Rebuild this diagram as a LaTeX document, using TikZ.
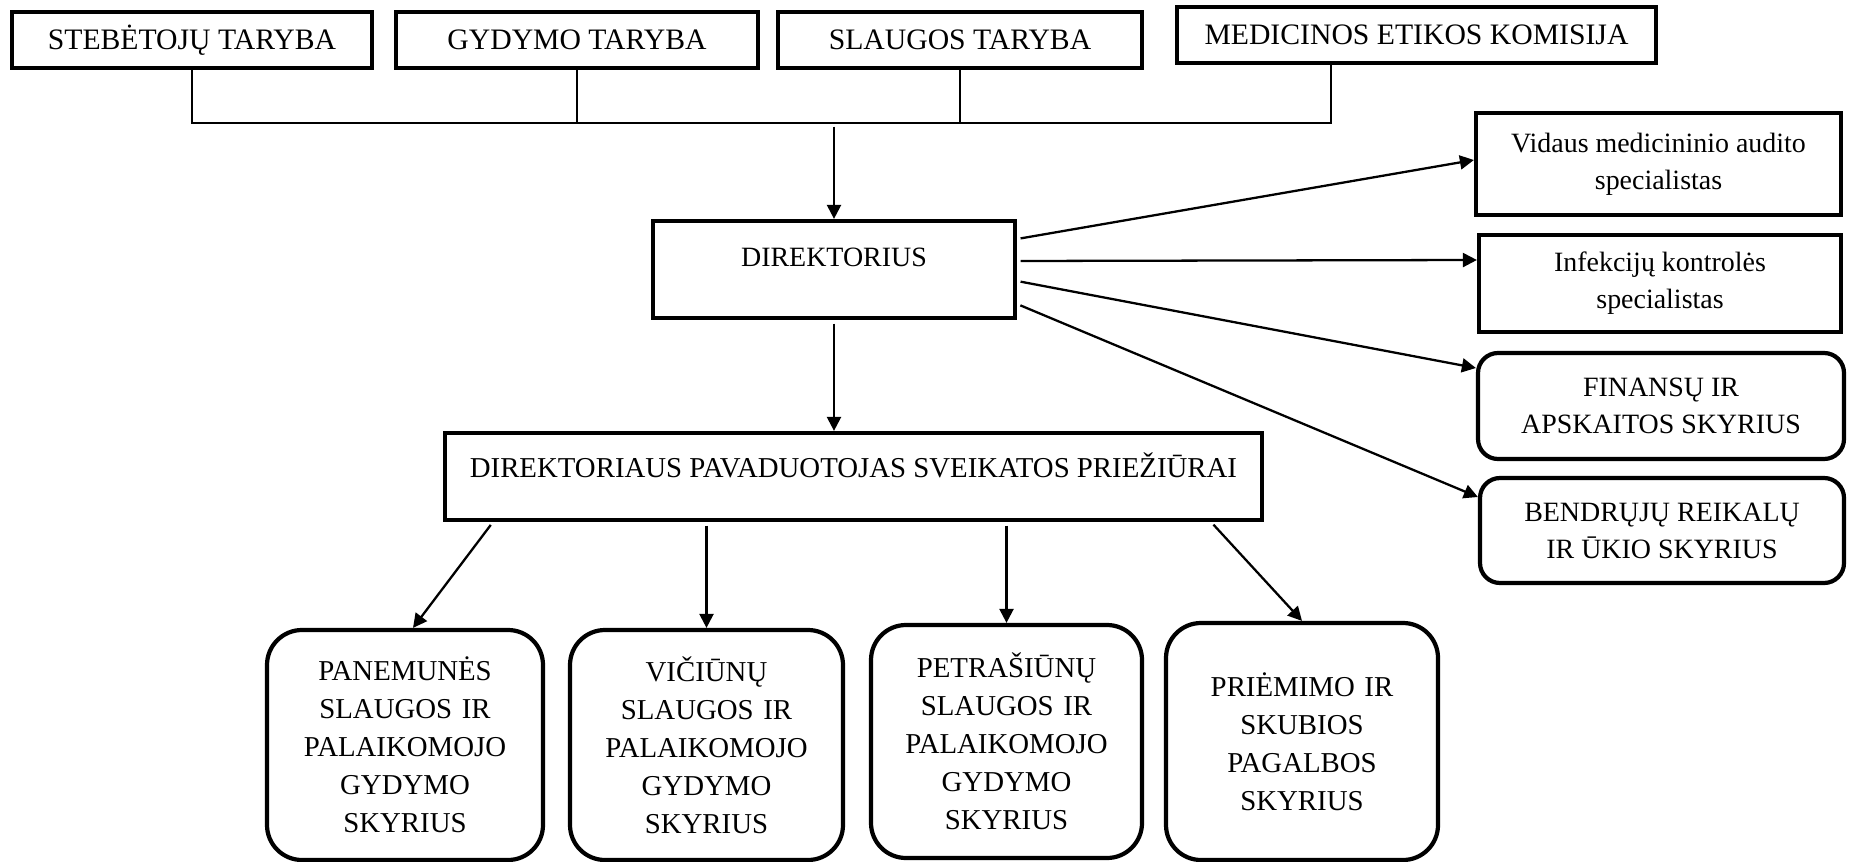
\documentclass[tikz,border=0pt]{standalone}
\usepackage{fontspec}
\setmainfont{Liberation Serif}
\usetikzlibrary{arrows.meta,positioning,calc}

\begin{document}
\begin{tikzpicture}[
  board/.style={draw,line width=2.4pt,inner sep=2pt,align=center,font=\fontsize{15.9}{21}\selectfont},
  council/.style={board,minimum height=1.12cm,font=\fontsize{16.9}{21}\selectfont},
  dept/.style={board,rounded corners=0.4cm,minimum width=7.3cm,minimum height=2.1cm},
  unitbox/.style={board,rounded corners=0.7cm,minimum width=5.45cm,minimum height=4.6cm,text width=5cm,font=\fontsize{16.4}{21.6}\selectfont},
  arr/.style={-{Triangle[length=0.28cm,width=0.28cm]},line width=1.3pt,shorten <=2pt}
]
\useasboundingbox (0,0) rectangle (36.98,17.22);
% councils on top
\node[council,minimum width=7.2cm] (stebetoju) at (3.84,16.42) {STEBĖTOJŲ TARYBA};
\node[council,minimum width=7.24cm] (gydymo) at (11.54,16.42) {GYDYMO TARYBA};
\node[council,minimum width=7.28cm] (slaugos) at (19.2,16.42) {SLAUGOS TARYBA};
\node[council,minimum width=9.58cm] (komisija) at (28.33,16.52) {MEDICINOS ETIKOS KOMISIJA};
\coordinate (bus) at (0,14.76);
\coordinate (ethics) at ([xshift=-1.71cm]komisija.south);
\draw[line width=1.1pt] (stebetoju.south) |- (ethics |- bus) -- (ethics);
\draw[line width=1.1pt] (gydymo.south) -- (gydymo.south |- bus);
\draw[line width=1.1pt] (slaugos.south) -- (slaugos.south |- bus);
% management
\node[board,minimum width=7.24cm,minimum height=1.94cm,text depth=0.5cm] (direktorius) at (16.68,11.83) {DIREKTORIUS};
\node[board,minimum width=16.34cm,minimum height=1.74cm,text depth=0.45cm,font=\fontsize{16.4}{21}\selectfont] (deputy) at (17.07,7.69) {DIREKTORIAUS PAVADUOTOJAS SVEIKATOS PRIEŽIŪRAI};
\draw[arr] (direktorius.north |- bus) -- (direktorius.north);
\draw[arr] (direktorius.south) -- (direktorius.south |- deputy.north);
% specialists and services
\node[board,minimum width=7.3cm,minimum height=2.04cm] (vidaus) at (33.17,13.94) {Vidaus medicininio audito\\specialistas};
\node[board,minimum width=7.24cm,minimum height=1.94cm] (infekciju) at (33.2,11.55) {Infekcijų kontrolės\\specialistas};
\node[dept,minimum width=7.32cm,minimum height=2.12cm] (finansu) at (33.22,9.1) {FINANSŲ IR\\APSKAITOS SKYRIUS};
\node[dept,minimum width=7.28cm] (bendruju) at (33.24,6.61) {BENDRŲJŲ REIKALŲ\\IR ŪKIO SKYRIUS};
\draw[arr] ([yshift=0.61cm]direktorius.east) -- ([yshift=0.08cm]vidaus.west);
\draw[arr] ([yshift=0.17cm]direktorius.east) -- ([yshift=0.47cm]infekciju.west);
\draw[arr] ([yshift=-0.23cm]direktorius.east) -- ([yshift=0.76cm]finansu.west);
\draw[arr] ([yshift=-0.69cm]direktorius.east) -- ([yshift=0.67cm]bendruju.west);
% units
\node[unitbox,minimum width=5.52cm] (panemunes) at (8.1,2.32) {PANEMUNĖS\\SLAUGOS IR\\PALAIKOMOJO\\GYDYMO\\SKYRIUS};
\node[unitbox,minimum width=5.46cm] (viciunu) at (14.13,2.32) {VIČIŪNŲ\\SLAUGOS IR\\PALAIKOMOJO\\GYDYMO\\SKYRIUS};
\node[unitbox,minimum width=5.42cm,minimum height=4.66cm] (petrasiunu) at (20.13,2.39) {PETRAŠIŪNŲ\\SLAUGOS IR\\PALAIKOMOJO\\GYDYMO\\SKYRIUS};
\node[unitbox,minimum width=5.44cm,minimum height=4.74cm] (priemimo) at (26.04,2.39) {PRIĖMIMO IR\\SKUBIOS\\PAGALBOS\\SKYRIUS};
\draw[arr] ([xshift=1cm]deputy.south west) -- ([xshift=0.16cm]panemunes.north);
\draw[arr] (deputy.south -| viciunu.north) -- (viciunu.north);
\draw[arr] (deputy.south -| petrasiunu.north) -- (petrasiunu.north);
\draw[arr] ([xshift=-1.06cm]deputy.south east) -- (priemimo.north);
\end{tikzpicture}
\end{document}
